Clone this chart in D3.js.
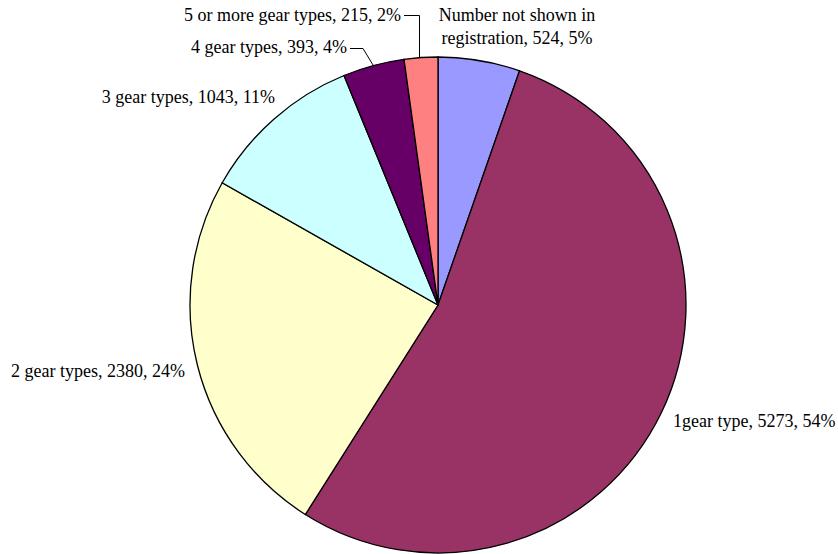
<!DOCTYPE html>
<html>
<head>
<meta charset="utf-8">
<script src="https://cdn.jsdelivr.net/npm/d3@7"></script>
<style>
  body { margin: 0; background: #fff; }
  text { font-family: "Liberation Serif", "Times New Roman", serif; font-size: 18px; fill: #000; }
</style>
</head>
<body>
<div id="chart"></div>
<script>
// Data
const categories = ['Number not shown in registration', '1gear type', '2 gear types', '3 gear types', '4 gear types', '5 or more gear types']
const values = [524, 5273, 2380, 1043, 393, 215]
const percents = ['5%', '54%', '24%', '11%', '4%', '2%']
const colors = ['#9999FF', '#993366', '#FFFFCC', '#CCFFFF', '#660066', '#FF8080']

// label placement (anchor x, baseline y, text-anchor), lines split where needed
const labelLayout = [
  { x: 517, y: 21, anchor: 'middle', lines: ['Number not shown in', 'registration, 524, 5%'] },
  { x: 673, y: 427, anchor: 'start' },
  { x: 185, y: 377, anchor: 'end' },
  { x: 275, y: 103, anchor: 'end' },
  { x: 347, y: 53, anchor: 'end', leader: [[350, 48.5], [363, 48.5], [373, 65]] },
  { x: 401, y: 21, anchor: 'end', leader: [[404, 15.5], [419.5, 15.5], [419.5, 58]] },
]

// Dimensions
const dimensions = { width: 838, height: 554 }
const cx = 438, cy = 305, radius = 248

const svg = d3.select('#chart')
  .append('svg')
  .attr('width', dimensions.width)
  .attr('height', dimensions.height)

const pie = d3.pie().sort(null).value(d => d)
const arc = d3.arc().innerRadius(0).outerRadius(radius)

const color = d3.scaleOrdinal().domain(categories).range(colors)

svg.append('g')
  .attr('transform', `translate(${cx}, ${cy})`)
  .selectAll('path')
  .data(pie(values))
  .join('path')
  .attr('d', arc)
  .attr('fill', (d, i) => color(categories[i]))
  .attr('stroke', '#000')
  .attr('stroke-width', 1.3)

// Labels
const labels = svg.append('g')
labelLayout.forEach((l, i) => {
  const lines = l.lines || [`${categories[i]}, ${values[i]}, ${percents[i]}`]
  const t = labels.append('text')
    .attr('x', l.x)
    .attr('y', l.y)
    .attr('text-anchor', l.anchor)
  lines.forEach((s, j) => {
    t.append('tspan').attr('x', l.x).attr('dy', j === 0 ? 0 : 23).text(s)
  })
  if (l.leader) {
    labels.append('path')
      .attr('d', d3.line()(l.leader))
      .attr('fill', 'none')
      .attr('stroke', '#000')
      .attr('stroke-width', 1)
  }
})
</script>
</body>
</html>
